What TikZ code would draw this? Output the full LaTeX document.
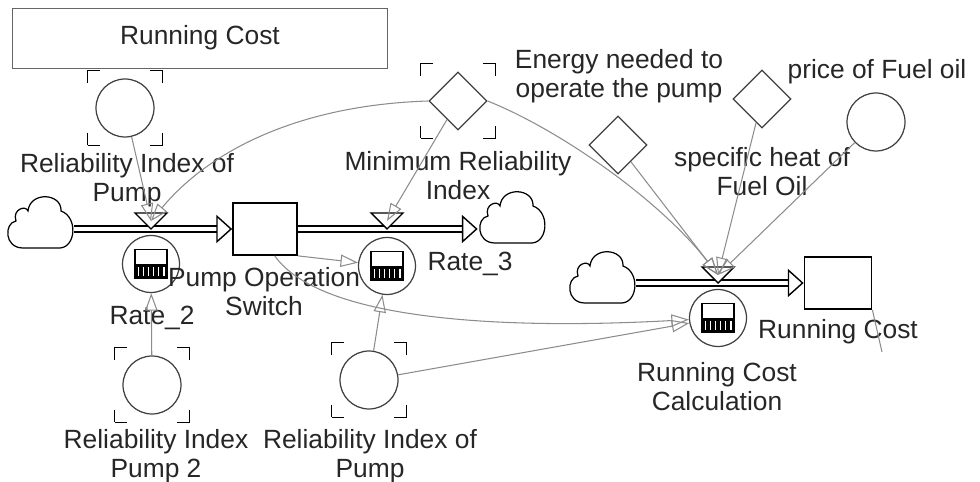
\documentclass[tikz,border=0pt]{standalone}
\usepackage{fontspec}
\setmainfont{Liberation Sans}
\usetikzlibrary{arrows.meta,shapes.geometric}

\begin{document}
\begin{tikzpicture}[
    x=0.02cm, y=-0.02cm,
    font=\fontsize{15}{16.5}\selectfont,
    stock/.style={draw, line width=1pt, minimum width=1.28cm, minimum height=1.04cm, inner sep=0pt, fill=white},
    aux/.style={draw=black!75, circle, minimum size=1.16cm, inner sep=0pt, line width=0.7pt},
    const/.style={draw=black!75, diamond, minimum size=1.16cm, inner sep=0pt, line width=0.7pt},
    ghost/.style={draw, line width=1pt, minimum size=1.5cm, inner sep=0pt, dash pattern=on 0.5cm off 1cm, dash phase=0.25cm},
    rate/.style={draw=black!75, circle, minimum size=1.14cm, inner sep=0pt, line width=0.7pt, fill=white,
        path picture={
            \draw[black, line width=0.8pt, fill=white] ([shift={(-0.32cm,-0.29cm)}]path picture bounding box.center) rectangle ([shift={(0.32cm,0.29cm)}]path picture bounding box.center);
            \fill[black] ([shift={(-0.32cm,-0.29cm)}]path picture bounding box.center) rectangle ([shift={(0.32cm,-0.01cm)}]path picture bounding box.center);
            \draw[white, line width=0.18cm, dash pattern=on 0.9pt off 2pt] ([shift={(-0.27cm,-0.16cm)}]path picture bounding box.center) -- ([shift={(0.28cm,-0.16cm)}]path picture bounding box.center);
        }},
    cloudy/.style={minimum width=1.36cm, minimum height=1.08cm, inner sep=0pt,
        path picture={
            \draw[black, line width=0.7pt, shift={(path picture bounding box.center)}]
                (-17,25) -- (20,25) .. controls (36,24) and (38,-6) .. (21,-12)
                .. controls (22,-30) and (-10,-32) .. (-12,-12)
                .. controls (-14,-18) and (-28,-14) .. (-24,-2)
                .. controls (-36,0) and (-36,25) .. (-17,25) -- cycle;
        }},
    pipe/.style={line width=4pt, shorten >=8pt},
    pipecore/.style={draw=white, line width=2.4pt, -{Triangle[color=black, fill=white, length=9pt, width=16pt, line width=0.8pt]}},
    valve/.style={draw, line width=0.8pt, fill=white},
    link/.style={draw=black!45, line width=0.6pt, -{Triangle[open, length=10pt, width=7pt]}},
    lbl/.style={align=center, inner sep=0pt, text=black!85}
]
\useasboundingbox (0,0) rectangle (980,482);

% title
\node[draw=black!60, minimum width=7.5cm, minimum height=1.2cm, text=black!85] (title) at (200,38) {Running Cost};

% flows
\node[cloudy] (cloudA) at (40,223) {};
\node[stock] (switch) at (265,229) {};
\node[cloudy] (cloudB) at (512,218) {};
\node[cloudy] (cloudC) at (602,278) {};
\node[stock, minimum width=1.34cm] (runcost) at (838,283) {};
\draw[pipe] (cloudA.east |- switch) -- (switch);
\draw[pipecore] (cloudA.east |- switch) -- (switch);
\draw[pipe] (switch) -- (switch -| cloudB.west);
\draw[pipecore] (switch) -- (switch -| cloudB.west);
\draw[pipe] (cloudC.east |- runcost) -- (runcost);
\draw[pipecore] (cloudC.east |- runcost) -- (runcost);

% rates and valves
\coordinate (valve2) at (151,221);
\coordinate (valve3) at (387,221);
\coordinate (valverc) at (718,275);
\draw[valve] (valve2) ++(-16,-8) -- ++(32,0) -- ++(-16,16) -- cycle;
\draw[valve] (valve3) ++(-16,-8) -- ++(32,0) -- ++(-16,16) -- cycle;
\draw[valve] (valverc) ++(-16,-8) -- ++(32,0) -- ++(-16,16) -- cycle;
\node[rate] (rate2) at (151,264) {};
\node[rate] (rate3) at (387,266) {};
\node[rate] (rcc) at (718,318) {};

% variables
\node[aux] (relpumpA) at (125,108) {};
\node[ghost] (relpumpAg) at (relpumpA) {};
\node[const] (minrel) at (458,101) {};
\node[ghost] (minrelg) at (minrel) {};
\node[const] (energy) at (618,145) {};
\node[const] (heat) at (762,99) {};
\node[aux] (price) at (876,122) {};
\node[aux] (relpump2) at (152,385) {};
\node[ghost] (relpump2g) at (relpump2) {};
\node[aux] (relpumpB) at (369,380) {};
\node[ghost] (relpumpBg) at (relpumpB) {};

% labels
\node[lbl] (relpumpAl) at (127,180) {Reliability Index of\\Pump};
\node[lbl] (minrell) at (458,176) {Minimum Reliability\\Index};
\node[lbl] (energyl) at (619,76) {Energy needed to\\operate the pump};
\node[lbl] (pricel) at (877,72) {price of Fuel oil};
\node[lbl] (heatl) at (762,172) {specific heat of\\Fuel Oil};
\node[lbl] (switchl) at (264,292) {Pump Operation\\Switch};
\node[lbl] (rate2l) at (152,318) {Rate\_2};
\node[lbl] (rate3l) at (470,264) {Rate\_3};
\node[lbl] (relpump2l) at (156,456) {Reliability Index\\Pump 2};
\node[lbl] (relpumpBl) at (370,456) {Reliability Index of\\Pump};
\node[lbl] (runcostl) at (838,332) {Running Cost};
\node[lbl] (rccl) at (717,387) {Running Cost\\Calculation};

% links
\draw[link] (relpumpA) -- (valve2);
\draw[link] (minrel.west) .. controls (300,105) and (210,150) .. (valve2);
\draw[link] (minrel) -- (valve3);
\draw[link] (minrel.east) .. controls (560,130) and (660,200) .. (valverc);
\draw[link] (energy) -- (valverc);
\draw[link] (heat) -- (valverc);
\draw[link] (price) -- (valverc);
\draw[link] (switch.south east) -- (rate3);
\draw[link] (switch.290) .. controls (320,320) and (500,330) .. (rcc);
\draw[link] (relpumpB) -- (rate3);
\draw[link] (relpumpB) -- (rcc);
\draw[link] (relpump2) -- (rate2);
\coordinate (runcostend) at (882,352);
\draw[draw=black!45, line width=0.6pt] (runcost.south east) -- (runcostend);
\end{tikzpicture}
\end{document}
